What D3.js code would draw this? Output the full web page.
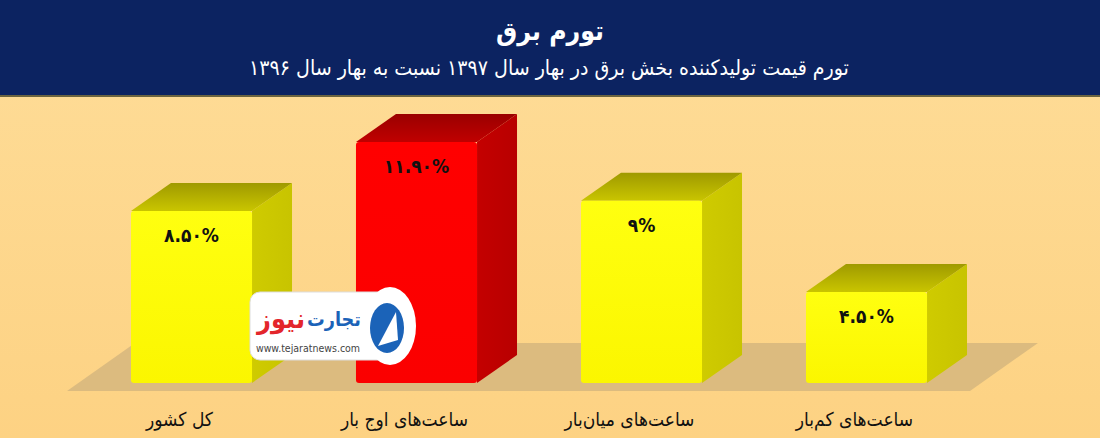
<!DOCTYPE html>
<html><head><meta charset="utf-8">
<script src="https://cdn.jsdelivr.net/npm/d3@7"></script>
<style>
html,body{margin:0;padding:0;background:#fdd88c;}
svg{display:block;}
text{font-family:"DejaVu Sans Condensed","DejaVu Sans",sans-serif;}
</style></head>
<body><svg id="c" width="1100" height="438"></svg>
<script>
const title = "تورم برق";
const subtitle = "تورم قیمت تولیدکننده بخش برق در بهار سال ۱۳۹۷ نسبت به بهار سال ۱۳۹۶";
const categories = ["کل کشور", "ساعت\u200cهای اوج بار", "ساعت\u200cهای میان\u200cبار", "ساعت\u200cهای کم\u200cبار"];
const values = [8.5, 11.9, 9, 4.5];
const valueLabels = ["۸.۵۰%", "۱۱.۹۰%", "۹%", "۴.۵۰%"];

const W = 1100, H = 438;
const svg = d3.select("#c");
const defs = svg.append("defs");

const bg = defs.append("linearGradient").attr("id","bg").attr("x1",0).attr("x2",0).attr("y1",0).attr("y2",1);
bg.append("stop").attr("offset","0%").attr("stop-color","#fedd99");
bg.append("stop").attr("offset","100%").attr("stop-color","#fdd283");
svg.append("rect").attr("width",W).attr("height",H).attr("fill","url(#bg)");

svg.append("rect").attr("width",W).attr("height",95).attr("fill","#0c2361");
svg.append("rect").attr("y",95).attr("width",W).attr("height",2).attr("fill","#6b6440");

function fit(sel, target){
  const w = sel.node().getComputedTextLength();
  const fs = parseFloat(sel.attr("font-size"));
  sel.attr("font-size", fs*target/w);
}

const t1 = svg.append("text").attr("x",550).attr("y",40).attr("text-anchor","middle")
  .attr("fill","#fff").attr("font-weight","bold").attr("font-size",26).text(title);
fit(t1,108);
const t2 = svg.append("text").attr("x",549).attr("y",75).attr("text-anchor","middle")
  .attr("fill","#fff").attr("font-size",17).text(subtitle);
fit(t2,600);

const x = d3.scaleBand().domain(categories).range([79,979]).paddingInner(0.462).paddingOuter(0.231);
const y = d3.scaleLinear().domain([0,12]).range([383,140]);
const dx = 40, dy = -28;

const y0 = y(0);
svg.append("path")
  .attr("d", `M67,${y0+8} L${67+68},${y0-40} L${1038},${y0-40} L970,${y0+8} Z`)
  .attr("fill","#dcbb7f");

const maxV = d3.max(values);
function grad(id, c1, c2, vertical){
  const g = defs.append("linearGradient").attr("id",id)
    .attr("x1",0).attr("y1",0).attr("x2",vertical?0:1).attr("y2",vertical?1:0);
  g.append("stop").attr("offset","0%").attr("stop-color",c1);
  g.append("stop").attr("offset","100%").attr("stop-color",c2);
}
grad("yFront","#ffff10","#fbf600",true);
grad("ySide","#cfcb00","#c8c400",false);
grad("yTop","#9f9a00","#c9c500",true);
grad("rFront","#ff0000","#fb0000",true);
grad("rSide","#c40000","#b80000",false);
grad("rTop","#9a0000","#c00000",true);

const bars = svg.append("g").selectAll("g").data(values).join("g");
bars.each(function(v,i){
  const g = d3.select(this);
  const red = v===maxV;
  const x0 = x(categories[i]), x1 = x0 + x.bandwidth();
  const yt = y(v), yb = y(0);
  g.append("path").attr("d",`M${x1},${yt} L${x1+dx},${yt+dy} L${x1+dx},${yb+dy} L${x1},${yb} Z`)
    .attr("fill", red?"url(#rSide)":"url(#ySide)");
  g.append("path").attr("d",`M${x0},${yt} L${x0+dx},${yt+dy} L${x1+dx},${yt+dy} L${x1},${yt} Z`)
    .attr("fill", red?"url(#rTop)":"url(#yTop)");
  g.append("rect").attr("x",x0).attr("y",yt).attr("width",x.bandwidth()).attr("height",yb-yt)
    .attr("rx",3).attr("fill", red?"url(#rFront)":"url(#yFront)");
  g.append("text").attr("x",x0+x.bandwidth()/2).attr("y",yt+31).attr("text-anchor","middle")
    .attr("font-size",19).attr("font-weight","bold").attr("fill","#111").text(valueLabels[i]);
});

svg.append("g").selectAll("text").data(categories).join("text")
  .attr("x", d => x(d)+x.bandwidth()/2-12).attr("y", 426)
  .attr("text-anchor","middle").attr("font-size",19).attr("fill","#111").text(d=>d);

// watermark logo
const lg = svg.append("g");
lg.append("rect").attr("x",250).attr("y",292).attr("width",140).attr("height",68).attr("rx",10)
  .attr("fill","#fff").attr("stroke","#ddd");
lg.append("ellipse").attr("cx",390).attr("cy",326).attr("rx",26).attr("ry",39).attr("fill","#fff");
lg.append("ellipse").attr("cx",387).attr("cy",328).attr("rx",17).attr("ry",25).attr("fill","#1b63b8");
lg.append("path").attr("d","M378,346 L396,312 L398,340 Z").attr("fill","#fff");
const la = lg.append("text").attr("x",334).attr("y",326).attr("text-anchor","middle")
  .attr("font-size",24).attr("font-weight","bold").attr("fill","#1b63b8").text("تجارت");
fit(la,54);
const lb = lg.append("text").attr("x",281).attr("y",328).attr("text-anchor","middle")
  .attr("font-size",24).attr("font-weight","bold").attr("fill","#e3262b").text("نیوز");
fit(lb,48);
lg.append("text").attr("x",308).attr("y",352).attr("text-anchor","middle")
  .attr("font-size",10.5).attr("fill","#444").attr("font-family","DejaVu Sans").text("www.tejaratnews.com");
</script></body></html>
